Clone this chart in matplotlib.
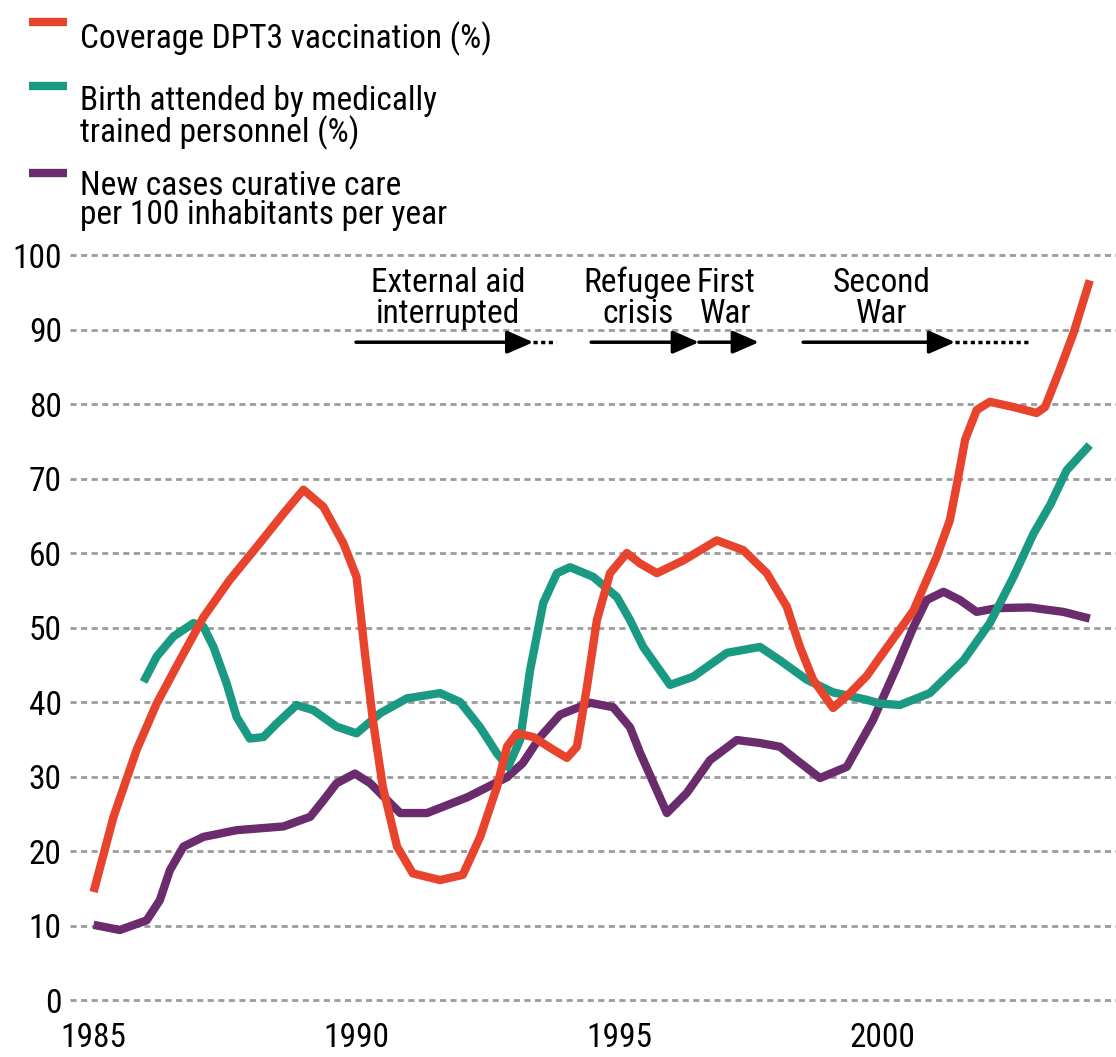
import matplotlib
matplotlib.use("Agg")
import matplotlib.pyplot as plt
from matplotlib import font_manager
from matplotlib.lines import Line2D

# pick a condensed face if one is around
names = {f.name for f in font_manager.fontManager.ttflist}
FAMILY, STRETCH = 'DejaVu Sans', 'condensed'
for cand in ['Roboto Condensed', 'Pragati Narrow', 'Archivo Narrow', 'PT Sans Narrow',
             'Liberation Sans Narrow']:
    if cand in names:
        FAMILY, STRETCH = cand, 'normal'
        break
plt.rcParams['font.family'] = [FAMILY, 'DejaVu Sans']
plt.rcParams['font.stretch'] = STRETCH
FS = 24

RED = '#e8432d'
TEAL = '#1b9a83'
PURPLE = '#6a2c6c'
GRID = '#9c9c9c'

# values
red_x = [1985.01, 1985.39, 1985.83, 1986.21, 1986.65, 1987.10, 1987.60, 1988.11, 1988.62, 1989.00,
         1989.38, 1989.76, 1990.01, 1990.17, 1990.32, 1990.51, 1990.78, 1991.08, 1991.60, 1992.03,
         1992.36, 1992.68, 1992.87, 1993.06, 1993.37, 1993.75, 1994.01, 1994.20, 1994.39, 1994.58,
         1994.83, 1995.15, 1995.40, 1995.72, 1996.22, 1996.86, 1997.36, 1997.81, 1998.19, 1998.44,
         1998.69, 1999.07, 1999.39, 1999.71, 1999.96, 2000.60, 2001.04, 2001.29, 2001.45, 2001.58,
         2001.80, 2002.05, 2002.50, 2002.94, 2003.10, 2003.38, 2003.64, 2003.95]
red_y = [14.5, 24.6, 33.6, 39.8, 45.6, 51.4, 56.4, 60.8, 65.3, 68.5,
         66.2, 61.3, 56.8, 46.5, 37.6, 28.6, 20.6, 17.0, 16.1, 16.8,
         21.9, 28.6, 34.0, 35.8, 35.3, 33.6, 32.5, 34.0, 42.0, 51.0,
         57.3, 60.0, 58.6, 57.3, 59.0, 61.7, 60.4, 57.3, 52.8, 47.4,
         43.0, 39.2, 41.2, 43.5, 46.0, 52.3, 59.5, 64.4, 70.2, 75.2,
         79.2, 80.3, 79.6, 78.8, 79.6, 84.6, 89.5, 96.6]

teal_x = [1985.96, 1986.21, 1986.53, 1986.91, 1987.10, 1987.29, 1987.54, 1987.73, 1987.98, 1988.24,
          1988.49, 1988.87, 1989.19, 1989.63, 1990.01, 1990.46, 1990.97, 1991.60, 1991.98, 1992.36,
          1992.68, 1992.89, 1993.12, 1993.31, 1993.56, 1993.82, 1994.07, 1994.51, 1994.96, 1995.21,
          1995.46, 1995.97, 1996.41, 1997.05, 1997.68, 1998.06, 1998.57, 1999.07, 1999.71, 1999.96,
          2000.34, 2000.91, 2001.55, 2002.05, 2002.50, 2002.88, 2003.20, 2003.51, 2003.95]
teal_y = [42.7, 46.1, 48.8, 50.6, 50.1, 47.4, 42.5, 38.0, 35.1, 35.3,
          37.1, 39.6, 38.9, 36.7, 35.8, 38.5, 40.5, 41.2, 40.0, 36.6,
          33.1, 31.3, 34.9, 44.3, 53.3, 57.3, 58.1, 56.8, 54.1, 51.0,
          47.4, 42.3, 43.4, 46.6, 47.4, 45.6, 43.0, 41.3, 40.3, 39.8,
          39.6, 41.2, 45.6, 50.6, 56.8, 62.6, 66.5, 71.1, 74.5]

purple_x = [1985.01, 1985.51, 1986.02, 1986.27, 1986.46, 1986.72, 1987.10, 1987.73, 1988.62, 1989.13,
            1989.38, 1989.63, 1989.98, 1990.27, 1990.84, 1991.35, 1992.11, 1992.87, 1993.17, 1993.50,
            1993.88, 1994.45, 1994.89, 1995.21, 1995.40, 1995.91, 1996.29, 1996.73, 1997.24, 1997.68,
            1998.06, 1998.38, 1998.82, 1999.33, 1999.83, 2000.28, 2000.60, 2000.85, 2001.17, 2001.48,
            2001.80, 2002.18, 2002.81, 2003.45, 2003.95]
purple_y = [10.1, 9.4, 10.7, 13.4, 17.4, 20.6, 21.9, 22.8, 23.3, 24.6,
            26.8, 29.1, 30.4, 29.1, 25.1, 25.1, 27.2, 29.9, 31.8, 35.3,
            38.3, 39.9, 39.3, 36.6, 33.2, 25.1, 27.8, 32.2, 34.9, 34.5,
            34.0, 32.2, 29.8, 31.3, 37.6, 44.7, 50.1, 53.7, 54.8, 53.7,
            52.1, 52.6, 52.7, 52.1, 51.2]

year_ticks = [1985, 1990, 1995, 2000]
value_ticks = [0, 10, 20, 30, 40, 50, 60, 70, 80, 90, 100]

legend_labels = [
    ['Coverage DPT3 vaccination (%)'],
    ['Birth attended by medically', 'trained personnel (%)'],
    ['New cases curative care', 'per 100 inhabitants per year'],
]

# periods: (label lines, label centre, arrow start, arrow tip, dotted end)
events = [
    (['External aid', 'interrupted'], 1991.75, 1990.0, 1993.37, 1993.80),
    (['Refugee', 'crisis'], 1995.36, 1994.47, 1996.52, None),
    (['First', 'War'], 1997.03, 1996.52, 1997.66, None),
    (['Second', 'War'], 2000.0, 1998.50, 2001.39, 2002.81),
]
ARROW_Y = 88.3
EVENT_BASE = [95.0, 90.9]

W, H = 1116, 1057
fig = plt.figure(figsize=(W / 100, H / 100), dpi=100)
ax = fig.add_axes([0.0572, 0.0398, 0.9428, 0.733])
ax.set_xlim(1984.445, 2004.449)
ax.set_ylim(-2, 102)

ax.hlines(value_ticks, 1984.56, 2004.5, colors=GRID, linestyles=(0, (2.2, 1.6)), lw=2, zorder=0)

kw = dict(lw=6, solid_capstyle='butt', solid_joinstyle='round')
ax.plot(purple_x, purple_y, color=PURPLE, zorder=2, **kw)
ax.plot(teal_x, teal_y, color=TEAL, zorder=3, **kw)
ax.plot(red_x, red_y, color=RED, zorder=4, **kw)

for lines, xc, x0, x1, xdot in events:
    for s, yb in zip(lines, EVENT_BASE):
        ax.text(xc, yb, s, ha='center', va='baseline', fontsize=FS)
    ax.annotate('', xy=(x1, ARROW_Y), xytext=(x0, ARROW_Y),
                arrowprops=dict(arrowstyle='-|>,head_length=0.8,head_width=0.35',
                                color='black', lw=2.5, shrinkA=0, shrinkB=0,
                                mutation_scale=20))
    if xdot is not None:
        ax.plot([x1, xdot], [ARROW_Y, ARROW_Y], color='black', lw=2.5,
                linestyle=(0, (1.2, 1.0)))

ax.set_xticks(year_ticks)
ax.set_yticks(value_ticks)
ax.tick_params(length=0, labelsize=FS)
ax.tick_params(axis='x', pad=5)
ax.tick_params(axis='y', pad=1.5)
for sp in ax.spines.values():
    sp.set_visible(False)

# legend drawn by hand: key line sits at the top of the text block
leg_line_y = [22, 86, 173]
leg_base_y = [[48], [110, 142], [195, 224]]
for col, ly, lines, bases in zip([RED, TEAL, PURPLE], leg_line_y, legend_labels, leg_base_y):
    fig.add_artist(Line2D([29 / W, 67 / W], [1 - ly / H, 1 - ly / H], color=col, lw=6,
                          solid_capstyle='butt'))
    for s, b in zip(lines, bases):
        fig.text(80 / W, 1 - b / H, s, ha='left', va='baseline', fontsize=FS)

fig.savefig('out.png', dpi=100)
